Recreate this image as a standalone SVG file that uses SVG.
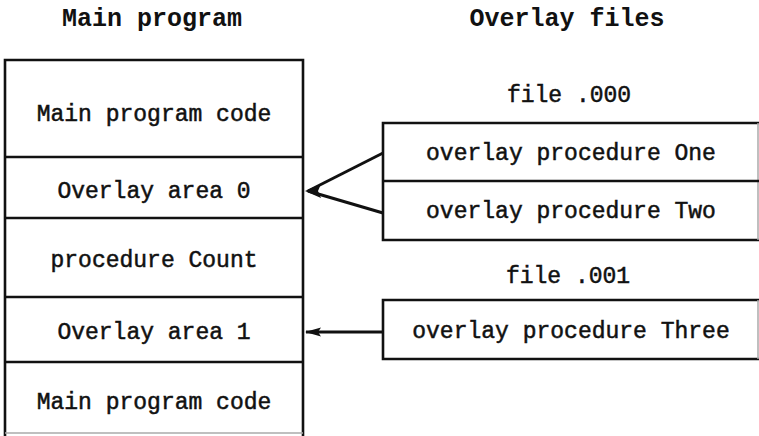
<svg xmlns="http://www.w3.org/2000/svg" width="759" height="436" viewBox="0 0 759 436">
  <defs>
    <style>
      .title { font-family: "Liberation Mono", "Courier New", monospace; font-size: 25px; font-weight: bold; fill: #111; text-anchor: middle; }
      .lbl { font-family: "Liberation Mono", "Courier New", monospace; font-size: 23px; fill: #111; stroke: #111; stroke-width: 0.5; text-anchor: middle; }
      .div { stroke: #111; stroke-width: 2.6; fill: none; }
      .faint { stroke: #aaa; stroke-width: 1.5; fill: none; }
      .conn { stroke: #111; stroke-width: 3; fill: none; }
    </style>
    <marker id="head" viewBox="0 0 16 10" refX="15" refY="5" markerWidth="16" markerHeight="10" markerUnits="userSpaceOnUse" orient="auto">
      <path d="M16,5 L0,0.5 L3,5 L0,9.5 Z" fill="#111"/>
    </marker>
  </defs>

  <text class="title" x="152" y="26">Main program</text>
  <text class="title" x="567" y="26">Overlay files</text>

  <g id="main-program">
    <path class="div" d="M5,60 H304 M5,58.7 V436 M303,58.7 V436"/>
    <line class="faint" x1="5" y1="433" x2="303" y2="433"/>
    <line class="div" x1="5" y1="157" x2="303" y2="157"/>
    <line class="div" x1="5" y1="218" x2="303" y2="218"/>
    <line class="div" x1="5" y1="297" x2="303" y2="297"/>
    <line class="div" x1="5" y1="362" x2="303" y2="362"/>
  </g>
  <g id="main-code-1"><text class="lbl" x="154" y="121">Main program code</text></g>
  <g id="overlay-area-0"><text class="lbl" x="154" y="198">Overlay area 0</text></g>
  <g id="procedure-count"><text class="lbl" x="154" y="267">procedure Count</text></g>
  <g id="overlay-area-1"><text class="lbl" x="154" y="339">Overlay area 1</text></g>
  <g id="main-code-2"><text class="lbl" x="154" y="409">Main program code</text></g>

  <g id="file-000">
    <text class="lbl" x="569" y="102">file .000</text>
    <path class="div" d="M759,123 H383 V240 H759"/>
    <line class="faint" x1="758" y1="123" x2="758" y2="240"/>
    <line class="div" x1="383" y1="181" x2="759" y2="181"/>
  </g>
  <g id="proc-one"><text class="lbl" x="571" y="160">overlay procedure One</text></g>
  <g id="proc-two"><text class="lbl" x="571" y="218">overlay procedure Two</text></g>

  <g id="file-001">
    <text class="lbl" x="568" y="283">file .001</text>
    <path class="div" d="M759,300 H383 V359 H759"/>
    <line class="faint" x1="758" y1="300" x2="758" y2="359"/>
  </g>
  <g id="proc-three"><text class="lbl" x="571" y="338">overlay procedure Three</text></g>

  <g id="connectors">
    <line class="conn" x1="383" y1="153" x2="308" y2="191"/>
    <line class="conn" x1="383" y1="213" x2="308" y2="191"/>
    <path d="M305,191 L321,184 L318,191 L321,198 Z" fill="#111"/>
    <line class="conn" x1="383" y1="332" x2="306" y2="332" marker-end="url(#head)"/>
  </g>
</svg>
